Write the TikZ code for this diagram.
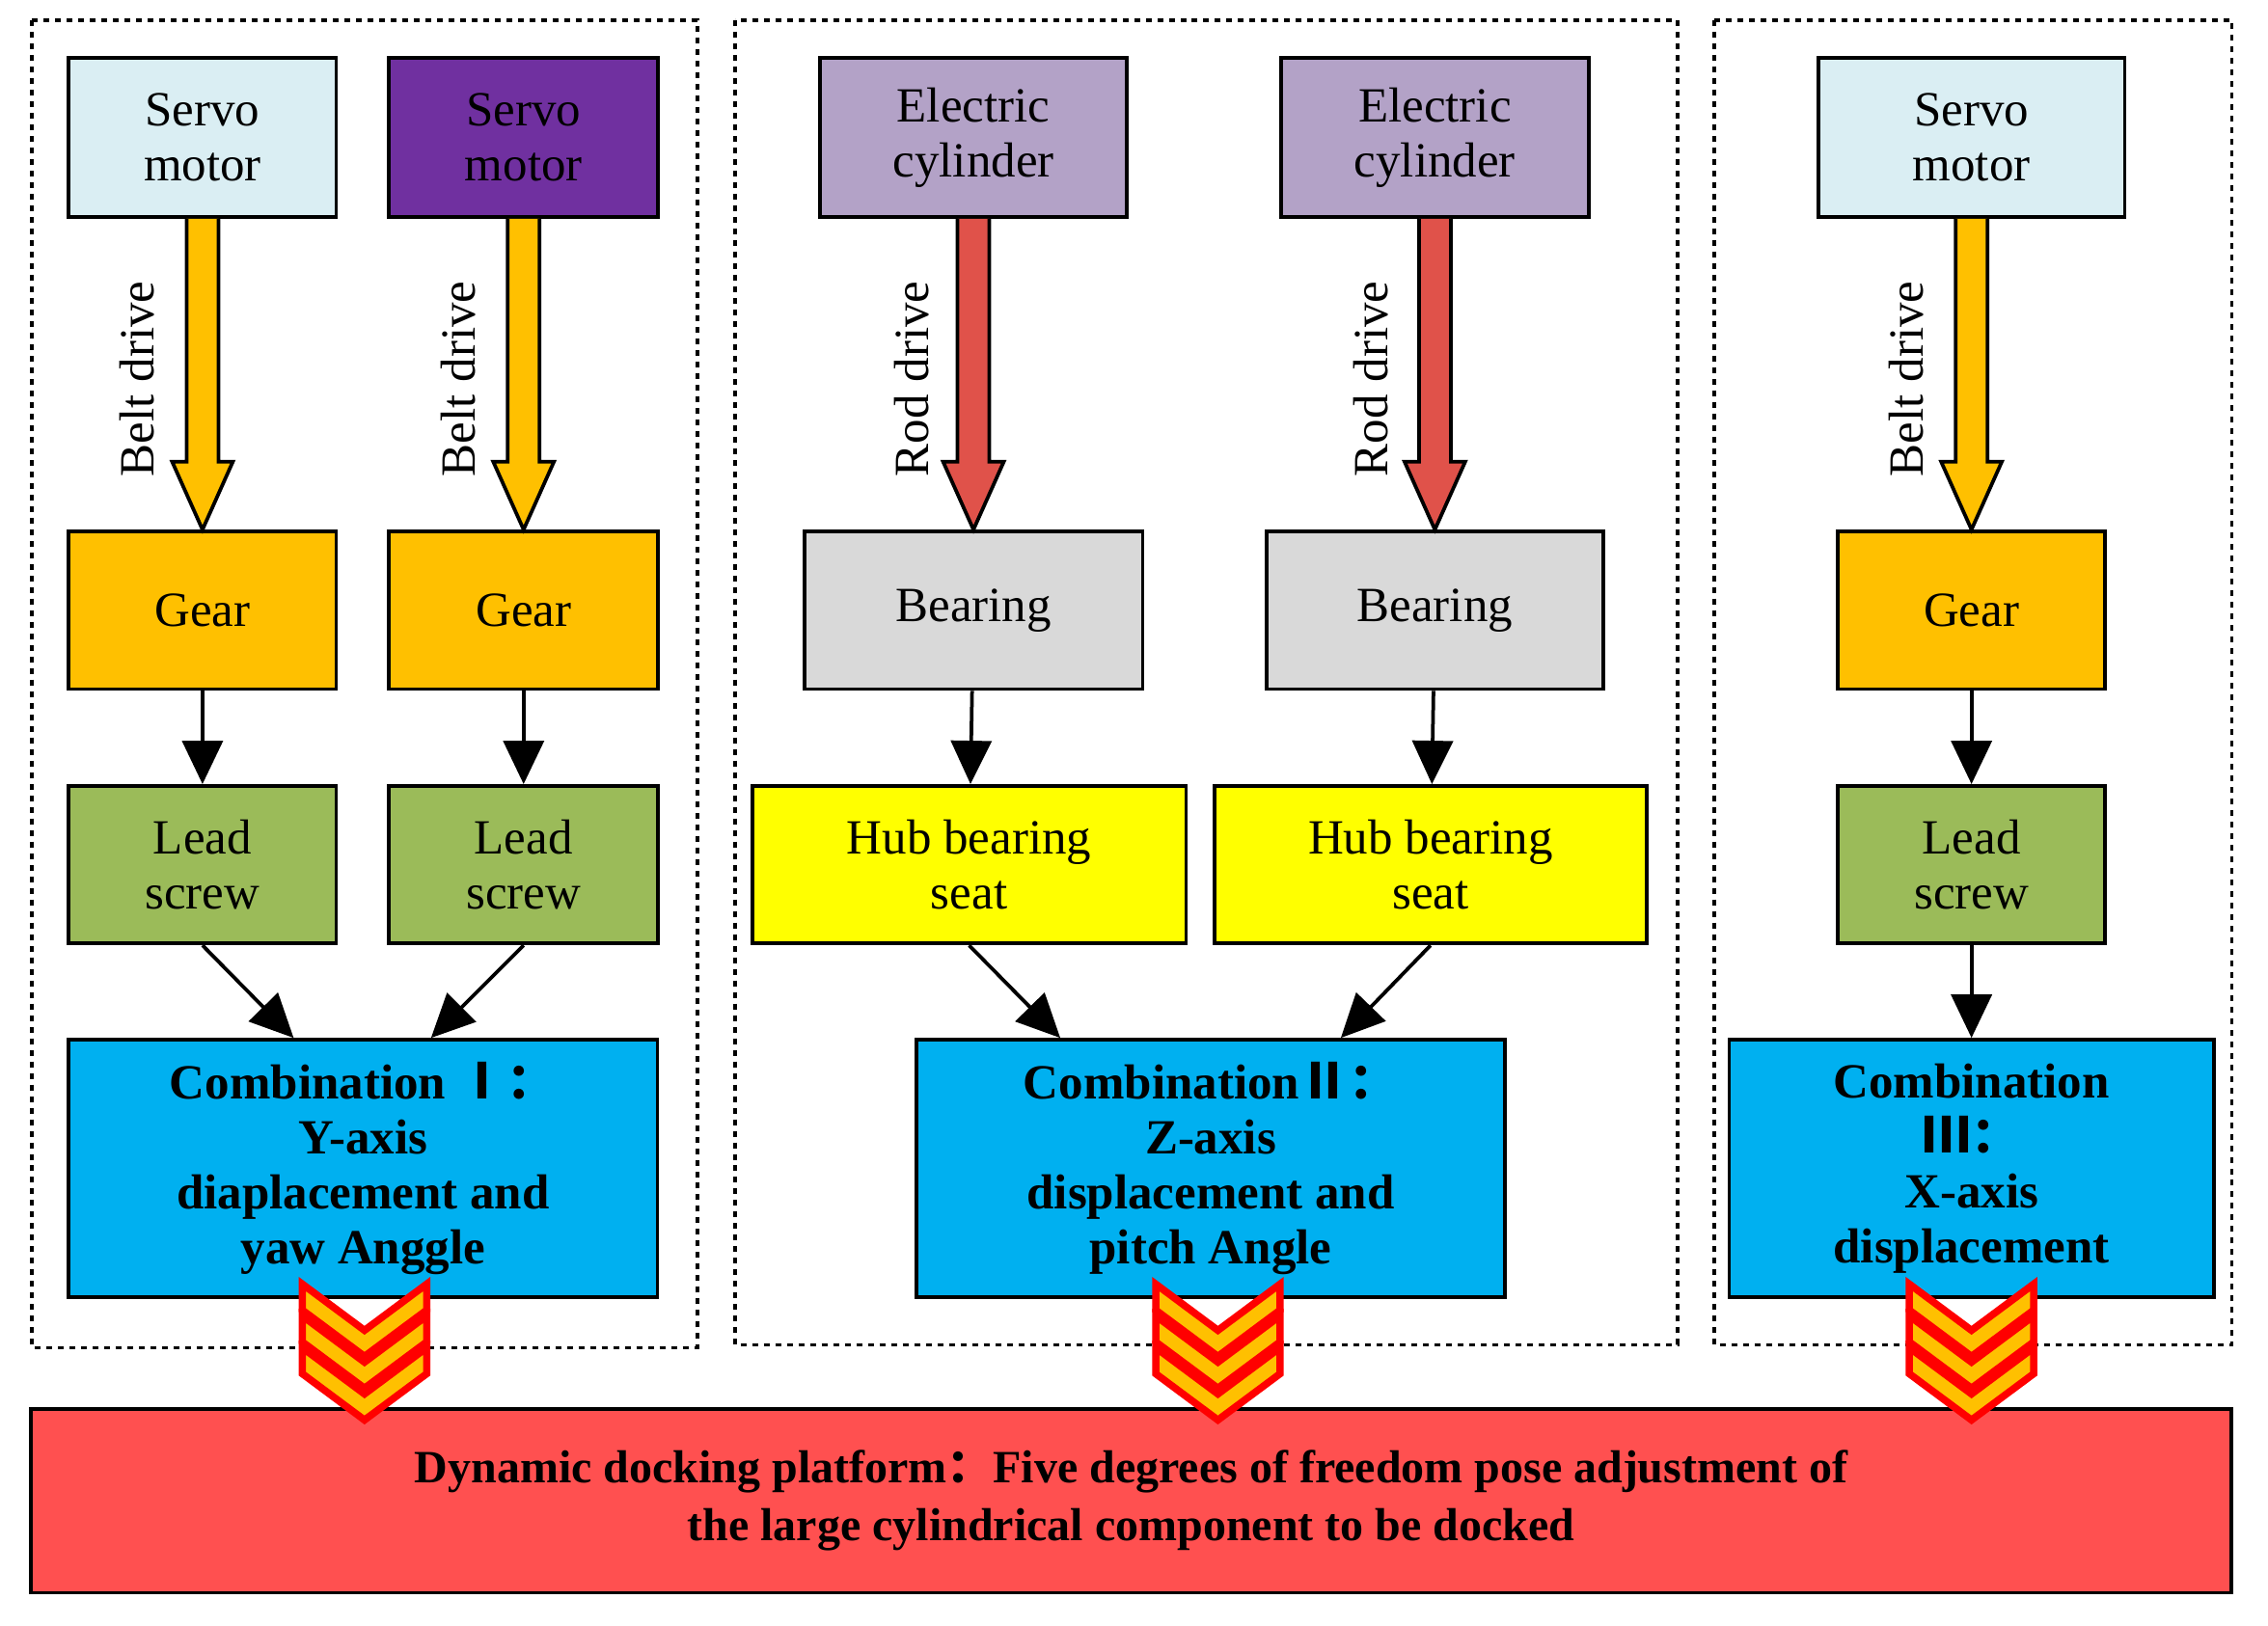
\documentclass[tikz,border=0pt]{standalone}
\usepackage{fontspec}
\setmainfont{Liberation Serif}
\newfontfamily\cjk{Noto Sans CJK SC}
\usetikzlibrary{arrows.meta,calc}
\definecolor{lblue}{HTML}{DAEEF3}
\definecolor{purp}{HTML}{7030A0}
\definecolor{lviol}{HTML}{B3A2C7}
\definecolor{gearc}{HTML}{FFC000}
\definecolor{greenc}{HTML}{9BBB59}
\definecolor{grayc}{HTML}{D9D9D9}
\definecolor{yell}{HTML}{FFFF00}
\definecolor{cyanc}{HTML}{00B0F0}
\definecolor{redc}{HTML}{FF5050}
\definecolor{rodc}{HTML}{E0524A}
\begin{document}
\begin{tikzpicture}[x=1pt,y=-1pt,
  box/.style={draw,line width=2.5pt,inner sep=0,align=center,font=\fontsize{34}{38}\selectfont},
  comb/.style={box,fill=cyanc,font=\fontsize{34}{38}\selectfont\bfseries},
  frame/.style={draw,line width=2.5pt,dash pattern=on 4pt off 4pt},
  thin/.style={line width=2.5pt,-{Triangle[width=28pt,length=30pt]}},
  lab/.style={rotate=90,font=\fontsize{34}{38}\selectfont},
  chev/.style={draw=red,line width=5pt,fill=gearc,line join=miter}]
\useasboundingbox (0,0) rectangle (1568,1124);
\newcommand\bx[7]{\node[box,fill=#6,text=#7,minimum width=#3,minimum height=#4] (#1) at (#2,#5) {};}
% frames
\draw[frame] (22,14) rectangle (482,932);
\draw[frame] (508,14) rectangle (1160,930);
\draw[frame] (1185,14) rectangle (1543,930);
% column 1
\node[box,fill=lblue,minimum width=185,minimum height=110] (s1) at (140,95) {Servo\\motor};
\node[box,fill=purp,minimum width=186,minimum height=110] (s2) at (362,95) {Servo\\motor};
\node[box,fill=gearc,minimum width=185,minimum height=109] (g1) at (140,422) {Gear};
\node[box,fill=gearc,minimum width=186,minimum height=109] (g2) at (362,422) {Gear};
\node[box,fill=greenc,minimum width=185,minimum height=109] (l1) at (140,598) {Lead\\screw};
\node[box,fill=greenc,minimum width=186,minimum height=109] (l2) at (362,598) {Lead\\screw};
\node[comb,minimum width=407,minimum height=178] (c1) at (251,808) {Combination {\cjk Ⅰ：}\\Y-axis\\diaplacement and\\yaw Anggle};
% column 2
\node[box,fill=lviol,minimum width=212,minimum height=110] (e1) at (673,95) {Electric\\cylinder};
\node[box,fill=lviol,minimum width=213,minimum height=110] (e2) at (992,95) {Electric\\cylinder};
\node[box,fill=grayc,minimum width=234,minimum height=109] (b1) at (673,422) {Bearing};
\node[box,fill=grayc,minimum width=233,minimum height=109] (b2) at (992,422) {Bearing};
\node[box,fill=yell,minimum width=300,minimum height=109] (h1) at (670,598) {Hub bearing\\seat};
\node[box,fill=yell,minimum width=299,minimum height=109] (h2) at (989,598) {Hub bearing\\seat};
\node[comb,minimum width=407,minimum height=178] (c2) at (837,808) {Combination{\cjk Ⅱ：}\\Z-axis\\displacement and\\pitch Angle};
% column 3
\node[box,fill=lblue,minimum width=212,minimum height=110] (s3) at (1363,95) {Servo\\motor};
\node[box,fill=gearc,minimum width=185,minimum height=109] (g3) at (1363,422) {Gear};
\node[box,fill=greenc,minimum width=185,minimum height=109] (l3) at (1363,598) {Lead\\screw};
\node[comb,minimum width=335,minimum height=178] (c3) at (1363,808) {Combination\\{\cjk Ⅲ：}\\X-axis\\displacement};
% bottom
\node[box,fill=redc,minimum width=1521,minimum height=127,font=\fontsize{32}{40}\selectfont\bfseries] (p) at (782,1038) {Dynamic docking platform{\cjk ：}Five degrees of freedom pose adjustment of\\the large cylindrical component to be docked};
% fat arrows
\newcommand\fat[3]{\draw[line width=2.5pt,fill=#3,line join=miter]
  ($(#1.south)+(-11,0)$) -- ($(#2.north)+(-11,-47)$) -- ($(#2.north)+(-21,-47)$) -- (#2.north)
  -- ($(#2.north)+(21,-47)$) -- ($(#2.north)+(11,-47)$) -- ($(#1.south)+(11,0)$);}
\fat{s1}{g1}{gearc}\fat{s2}{g2}{gearc}\fat{s3}{g3}{gearc}
\fat{e1}{b1}{rodc}\fat{e2}{b2}{rodc}
\node[lab] (t1) at (95,262) {Belt drive};
\node[lab] (t2) at (317,262) {Belt drive};
\node[lab] (t3) at (1318,262) {Belt drive};
\node[lab] (t4) at (630,262) {Rod drive};
\node[lab] (t5) at (948,262) {Rod drive};
% thin arrows
\draw[thin] (g1) -- (l1); \draw[thin] (g2) -- (l2); \draw[thin] (g3) -- (l3);
\draw[thin] (b1) -- (h1); \draw[thin] (b2) -- (h2);
\draw[thin] (l3) -- (c3);
\draw[thin] (l1.south) -- (c1.north -| 203,0);
\draw[thin] (l2.south) -- (c1.north -| 298,0);
\draw[thin] (h1.south) -- (c2.north -| 733,0);
\draw[thin] (h2.south) -- (c2.north -| 927,0);
% chevrons
\newcommand\chevs[3]{\foreach \k in {2,1,0}{
  \draw[chev] ($(#1,#2)+(-#3,\k*22)$) -- ++(0,18) -- ($(#1,#2)+(0,\k*22+18+32)$) -- ($(#1,#2)+(#3,\k*22+18)$)
   -- ++(0,-18) -- ($(#1,#2)+(0,\k*22+32)$) -- cycle;}}
\chevs{252}{888}{43}
\chevs{842}{888}{43}
\chevs{1363}{888}{43}
\end{tikzpicture}
\end{document}
